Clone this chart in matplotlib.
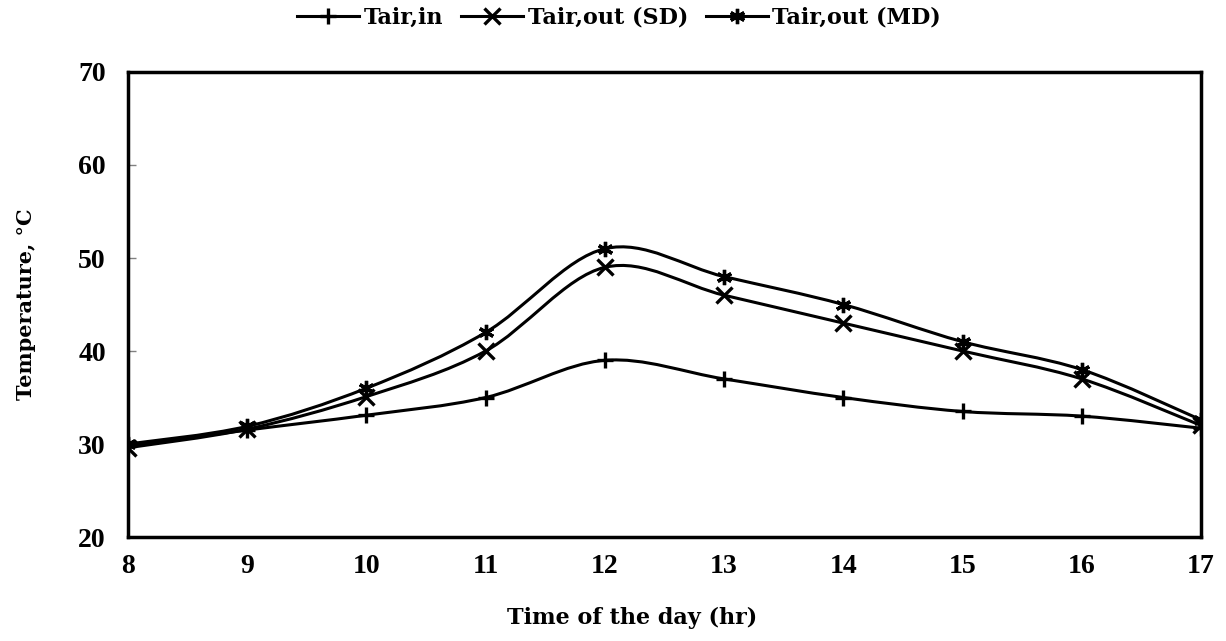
import numpy as np
import matplotlib
matplotlib.use("Agg")
import matplotlib.pyplot as plt
from matplotlib.path import Path
from matplotlib.patches import PathPatch
from matplotlib.lines import Line2D

plt.rcParams['font.family'] = ['DejaVu Serif']
plt.rcParams['font.weight'] = 'bold'

hours = [8, 9, 10, 11, 12, 13, 14, 15, 16, 17]
t_in = [29.8, 31.5, 33.1, 35.0, 39.0, 37.0, 35.0, 33.5, 33.0, 31.7]
t_out_sd = [29.6, 31.6, 35.1, 40.0, 49.0, 46.0, 43.0, 40.0, 37.0, 32.0]
t_out_md = [30.0, 31.9, 36.0, 42.0, 51.0, 48.0, 45.0, 41.0, 38.0, 32.6]

series = [
    ("Tair,in", t_in, "+"),
    ("Tair,out (SD)", t_out_sd, "x"),
    ("Tair,out (MD)", t_out_md, (6, 2, 0)),
]


def smooth_path(x, y):
    # Excel-like smoothed line: Catmull-Rom segments as cubic Beziers
    pts = np.column_stack([x, y]).astype(float)
    n = len(pts)
    verts = [pts[0]]
    codes = [Path.MOVETO]
    for i in range(n - 1):
        p0 = pts[i - 1] if i > 0 else pts[i]
        p1 = pts[i]
        p2 = pts[i + 1]
        p3 = pts[i + 2] if i + 2 < n else pts[i + 1]
        c1 = p1 + (p2 - p0) / 6.0
        c2 = p2 - (p3 - p1) / 6.0
        verts += [c1, c2, p2]
        codes += [Path.CURVE4] * 3
    return Path(verts, codes)


fig = plt.figure(figsize=(12.26, 6.41), dpi=100)
ax = fig.add_axes([0.1044, 0.1622, 0.8752, 0.7255])

handles = []
for label, vals, mk in series:
    ax.add_patch(PathPatch(smooth_path(hours, vals), fill=False,
                           edgecolor="black", lw=2.2, zorder=2))
    ax.plot(hours, vals, linestyle="none", marker=mk, color="black",
            markersize=11, markeredgewidth=2.4, zorder=3)
    handles.append(Line2D([], [], color="black", lw=2.2, marker=mk,
                          markersize=11, markeredgewidth=2.4, label=label))

ax.set_xlim(8, 17)
ax.set_ylim(20, 70)
ax.set_xticks(hours)
ax.set_yticks(range(20, 71, 10))
ax.tick_params(axis="x", length=0, pad=12)
ax.tick_params(axis="y", direction="in", length=6, width=1, color="gray",
               pad=16)
for lbl in ax.get_xticklabels() + ax.get_yticklabels():
    lbl.set_fontfamily("Liberation Serif")
    lbl.set_fontsize(20)
    lbl.set_fontweight("bold")
for sp in ax.spines.values():
    sp.set_linewidth(2.5)

ax.set_xlabel("Time of the day (hr)", fontsize=16, fontweight="bold",
              labelpad=20, x=0.47)
ax.set_ylabel("Temperature, °C", fontsize=15, fontweight="bold", labelpad=30)

fig.legend(handles=handles, loc="center", bbox_to_anchor=(0.505, 0.972),
           ncol=3, frameon=False, fontsize=16, handlelength=2.8,
           columnspacing=0.8, handletextpad=0.2)

fig.savefig("out.png", dpi=100)
